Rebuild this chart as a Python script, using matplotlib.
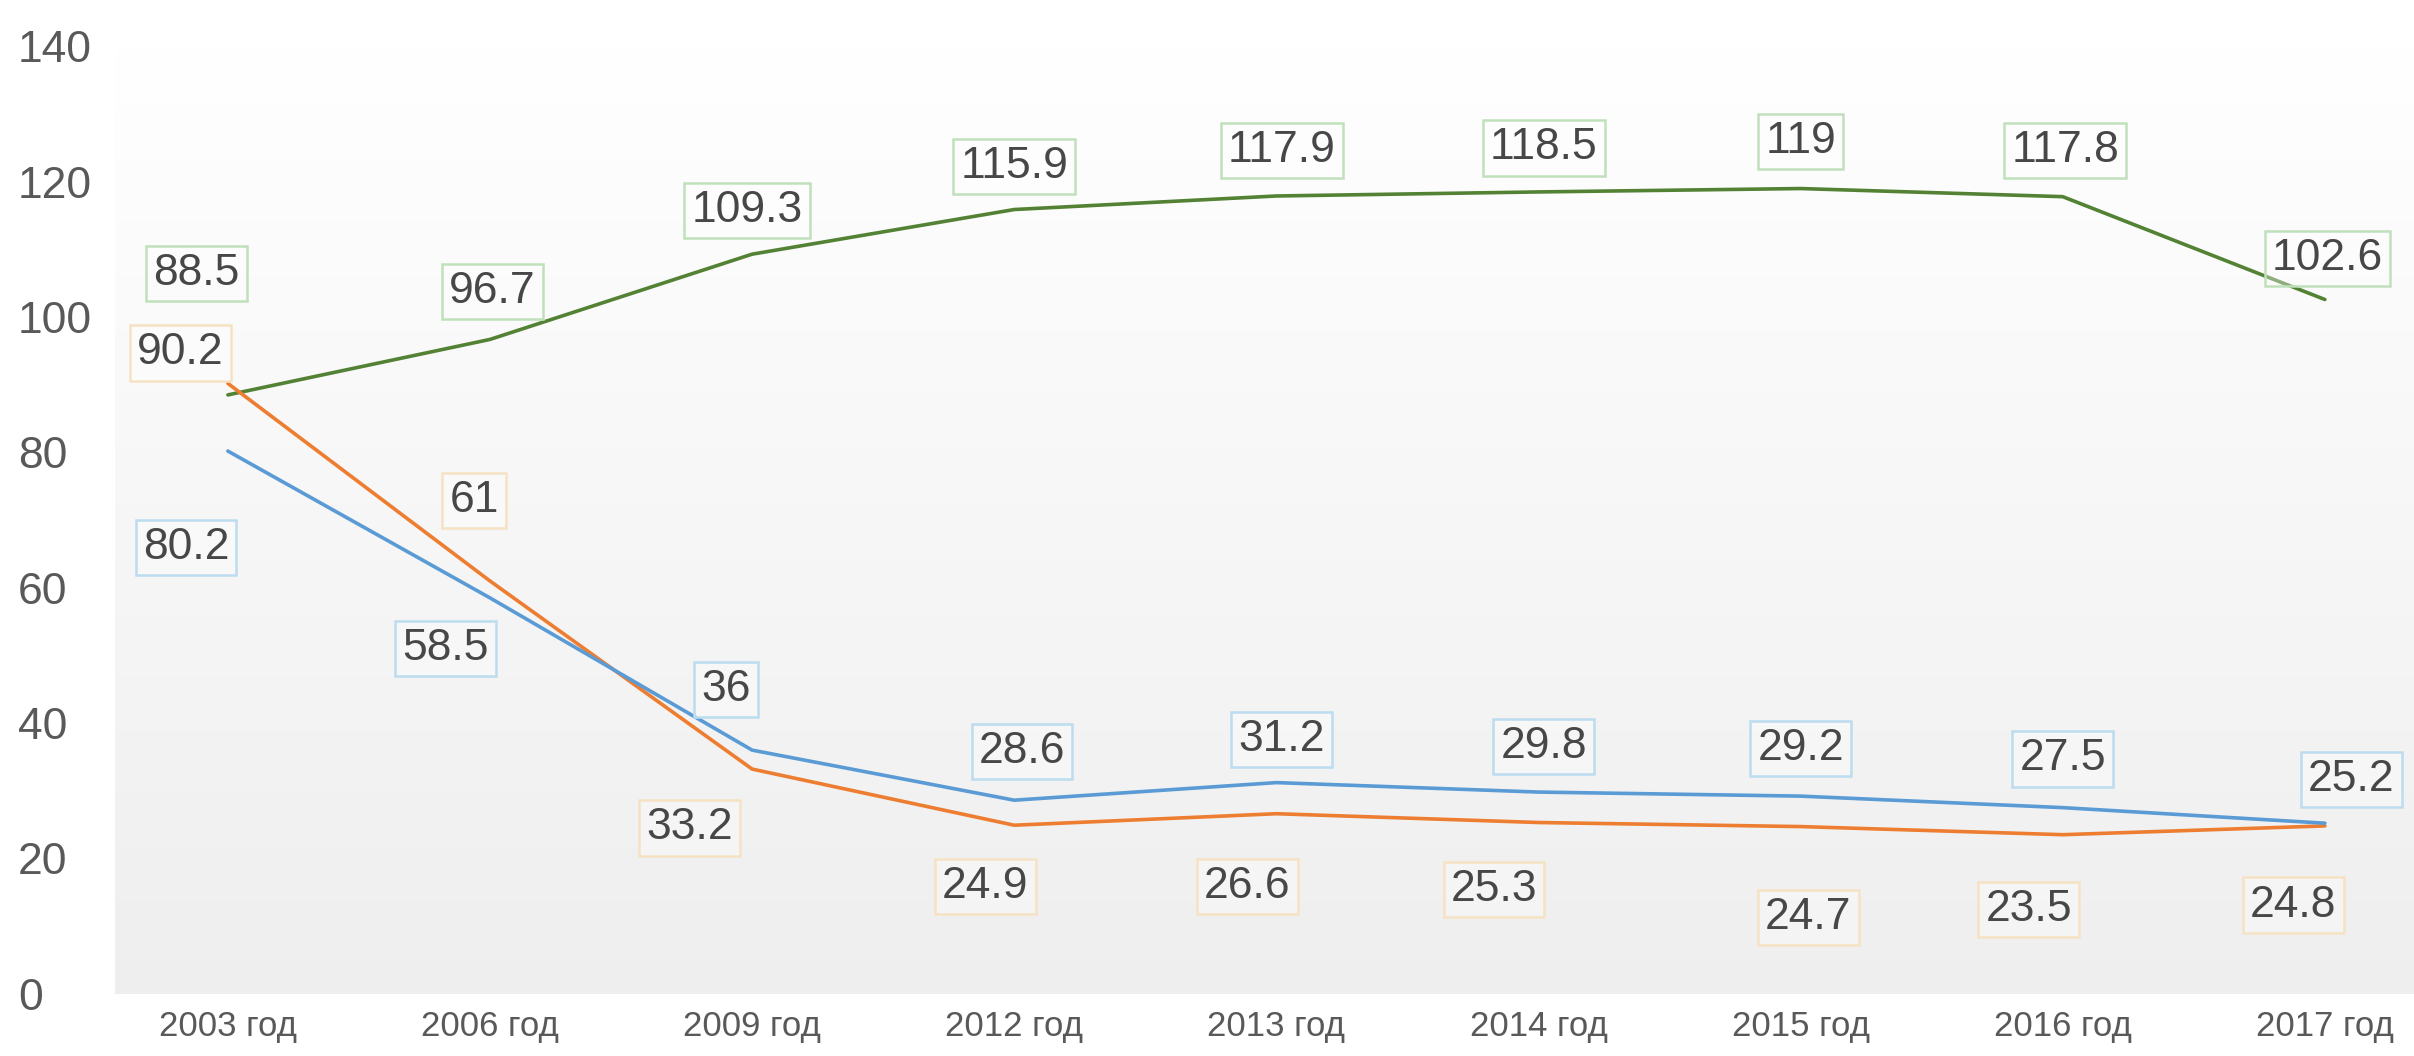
import matplotlib
matplotlib.use('Agg')
import matplotlib.pyplot as plt
import numpy as np

# ─── Data ───
years = ['2003 год', '2006 год', '2009 год', '2012 год', '2013 год',
         '2014 год', '2015 год', '2016 год', '2017 год']
green_vals = [88.5, 96.7, 109.3, 115.9, 117.9, 118.5, 119, 117.8, 102.6]
orange_vals = [90.2, 61, 33.2, 24.9, 26.6, 25.3, 24.7, 23.5, 24.8]
blue_vals = [80.2, 58.5, 36, 28.6, 31.2, 29.8, 29.2, 27.5, 25.2]

# label placement relative to each point (x in categories, y in axis units)
green_dx = [-0.12, 0.01, -0.02, 0, 0.02, 0.02, 0, 0.01, 0.01]
green_dy = [18, 7.1, 6.5, 6.4, 6.7, 6.5, 7, 6.8, 6.1]
orange_dx = [-0.18, -0.06, -0.24, -0.11, -0.11, -0.17, 0.03, -0.13, -0.12]
orange_dy = [4.5, 11.9, -8.7, -9, -10.7, -9.9, -13.4, -11, -11.7]
blue_dx = [-0.16, -0.17, -0.1, 0.03, 0.02, 0.02, 0, 0, 0.1]
blue_dy = [-14.3, -7.5, 9, 7.2, 6.4, 6.7, 7, 7.2, 6.5]

plt.rcParams['font.family'] = ['Liberation Sans', 'DejaVu Sans']
TXT = '#595959'

fig = plt.figure(figsize=(24.14, 10.56), dpi=100)
ax = fig.add_axes([0.0477, 0.059, 0.9523, 0.897])
x = np.arange(len(years))

# soft vertical gradient behind the plot
grad = np.linspace(1.0, 0.935, 256).reshape(-1, 1)
ax.imshow(np.dstack([grad, grad, grad]), extent=[0, 1, 0, 1], transform=ax.transAxes,
          aspect='auto', zorder=0, origin='upper')

series = [
    (green_vals, '#548235', '#c0e0bb', green_dx, green_dy),
    (orange_vals, '#ed7d31', '#f5e2c4', orange_dx, orange_dy),
    (blue_vals, '#5b9bd5', '#bcdcef', blue_dx, blue_dy),
]
for vals, col, edge, dxs, dys in series:
    ax.plot(x, vals, color=col, lw=2.6, zorder=3, solid_capstyle='round')
    for i, v in enumerate(vals):
        ax.text(x[i] + dxs[i], v + dys[i], f'{v:g}', ha='center', va='center',
                fontsize=32, color='#474747', zorder=4,
                bbox=dict(boxstyle='square,pad=0.16', fc=(1, 1, 1, 0.35), ec=edge, lw=1.8))

ax.set_xlim(-0.43, 8.34)
ax.set_ylim(0, 140)
ax.set_yticks(np.arange(0, 141, 20))
ax.set_xticks(x)
ax.set_xticklabels(years)
ax.tick_params(axis='both', length=0, labelcolor=TXT)
ax.tick_params(axis='x', labelsize=25, pad=12)
ax.tick_params(axis='y', labelsize=32, pad=70)
for lab in ax.get_yticklabels():
    lab.set_horizontalalignment('left')
for s in ax.spines.values():
    s.set_visible(False)

plt.savefig('out.png', dpi=100)
